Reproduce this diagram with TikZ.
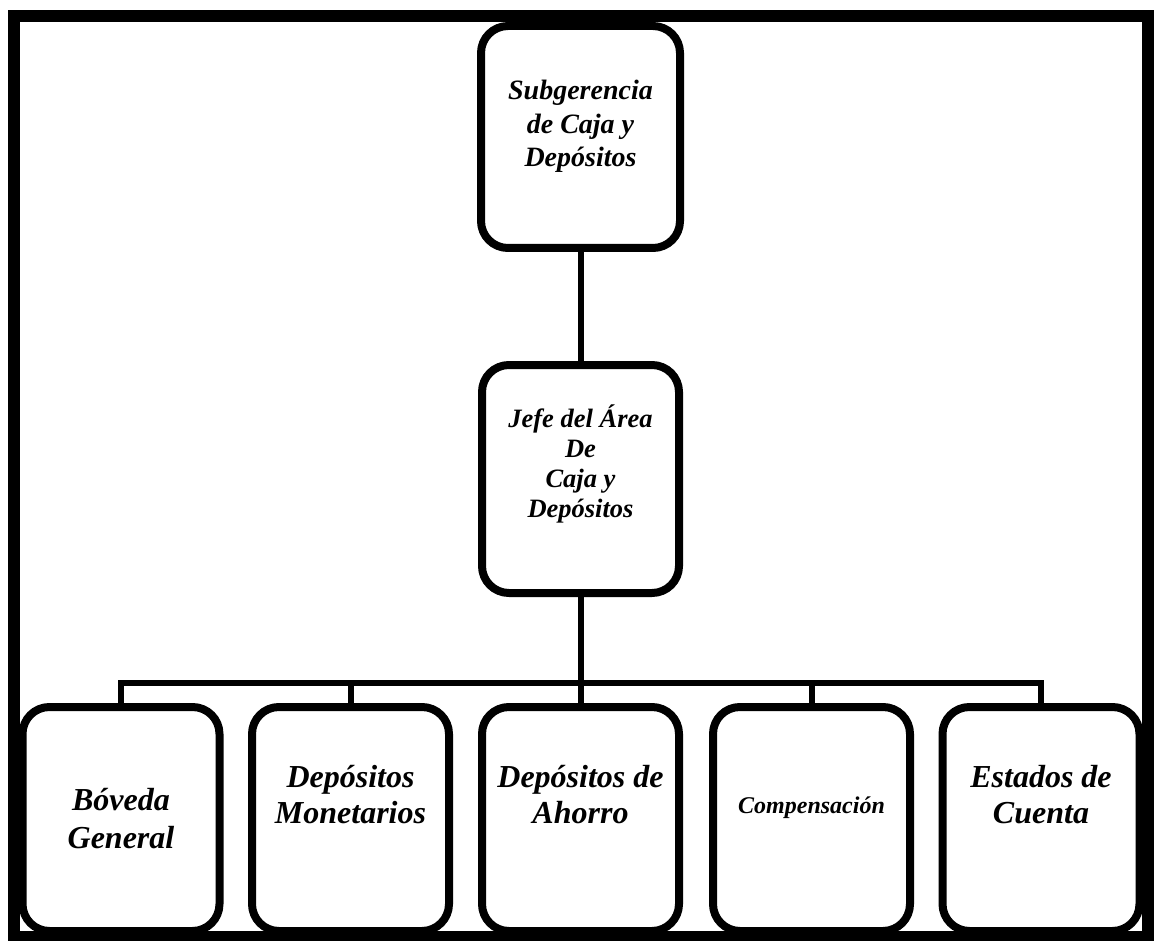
\documentclass[tikz,border=0pt]{standalone}
\usepackage{fontspec}
\setmainfont{Liberation Serif}
\begin{document}
\begin{tikzpicture}[x=1pt,y=-1pt,
  unit/.style={draw, line width=8pt, rounded corners=27pt, fill=white,
    minimum width=197pt, minimum height=224pt, inner sep=0pt},
  lbl/.style={align=center, anchor=base, inner sep=0pt},
  link/.style={line width=6pt, line join=miter}]
\useasboundingbox (0,0) rectangle (1154,941);
% outer frame
\draw[line width=12pt] (14,16) rectangle (1148,937);

% boxes
\node[unit, minimum width=199pt, minimum height=222pt] (sub) at (580.5,137) {};
\node[unit, minimum height=228pt] (jefe) at (580.5,479) {};
\node[unit] (bov) at (121,819) {};
\node[unit] (mon) at (350.5,819) {};
\node[unit] (aho) at (580.5,819) {};
\node[unit] (com) at (811.5,819) {};
\node[unit] (est) at (1041,819) {};

% connectors
\coordinate (bus) at (580.5,683);
\draw[link] (sub.south) -- (jefe.north);
\draw[link] (jefe.south) -- (jefe.south |- bus);
\draw[link] (bov.north) -- (bov.north |- bus) -- (est.north |- bus) -- (est.north);
\draw[link] (mon.north |- bus) -- (mon.north);
\draw[link] (aho.north |- bus) -- (aho.north);
\draw[link] (com.north |- bus) -- (com.north);

% labels (anchored at the baseline of the last line)
\node[lbl, font=\bfseries\itshape\fontsize{28}{33.5}\selectfont] (tsub) at (580.5,167)
  {Subgerencia\\de Caja y\\Depósitos};
\node[lbl, font=\bfseries\itshape\fontsize{26.5}{30}\selectfont] (tjefe) at (580.5,517)
  {Jefe del Área\\De\\Caja y\\Depósitos};
\node[lbl, font=\bfseries\itshape\fontsize{32}{38}\selectfont] (tbov) at (121,848)
  {Bóveda\\General};
\node[lbl, font=\bfseries\itshape\fontsize{32}{36}\selectfont] (tmon) at (350.5,823)
  {Depósitos\\Monetarios};
\node[lbl, font=\bfseries\itshape\fontsize{32}{36}\selectfont] (taho) at (580.5,823)
  {Depósitos de\\Ahorro};
\node[lbl, font=\bfseries\itshape\fontsize{24}{28}\selectfont] (tcom) at (811.5,813)
  {Compensación};
\node[lbl, font=\bfseries\itshape\fontsize{32}{36}\selectfont] (test) at (1041,823)
  {Estados de\\Cuenta};
\end{tikzpicture}
\end{document}
